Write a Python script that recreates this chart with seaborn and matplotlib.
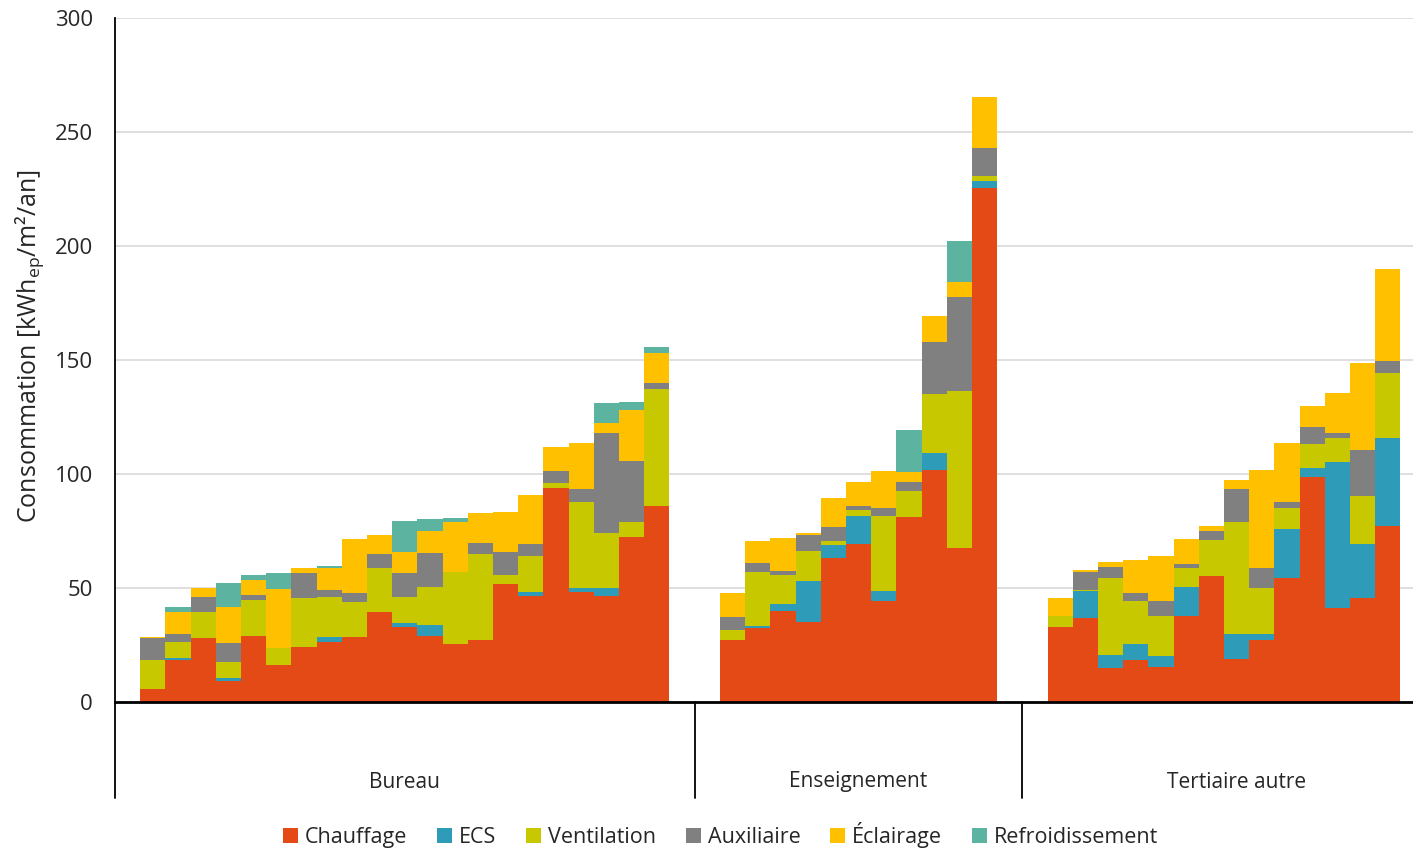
import pandas as pd
import matplotlib
matplotlib.use("Agg")
import matplotlib.pyplot as plt
import seaborn as sns
from matplotlib.patches import Patch

sns.set_theme(style="whitegrid")
plt.rcParams['font.family'] = ['Open Sans', 'DejaVu Sans']
plt.rcParams['mathtext.fontset'] = 'custom'
plt.rcParams['mathtext.rm'] = 'Open Sans'

usages = ['Chauffage', 'ECS', 'Ventilation', 'Auxiliaire', 'Éclairage', 'Refroidissement']
colors = ['#E44A16', '#2E9CB8', '#C8C800', '#808080', '#FFC000', '#5BB3A0']
groups = ['Bureau', 'Enseignement', 'Tertiaire autre']

# Bureau (21 bâtiments)
chauffage_b = [5.7, 18.4, 27.9, 9.2, 28.9, 16.2, 24.3, 26.2, 28.6, 39.3, 32.8, 28.9, 25.4, 27.2, 51.6, 46.5, 94.0, 48.4, 46.5, 72.5, 86.1]
ecs_b = [0, 0.7, 0, 1.2, 0, 0, 0, 2.2, 0, 0, 2.0, 4.9, 0, 0, 0, 1.9, 0, 1.5, 3.4, 0, 0]
ventilation_b = [12.7, 7.1, 11.7, 7.3, 15.8, 7.3, 21.2, 17.8, 15.1, 19.3, 11.4, 16.8, 31.8, 37.6, 4.1, 15.6, 1.9, 38.0, 24.1, 6.6, 51.2]
auxiliaire_b = [9.5, 3.5, 6.3, 8.3, 2.2, 0, 10.9, 2.9, 4.2, 6.3, 10.5, 14.6, 0, 4.8, 9.9, 5.2, 5.4, 5.5, 44.1, 26.7, 2.8]
eclairage_b = [0.7, 9.9, 4.2, 15.8, 6.6, 26.2, 2.2, 9.5, 23.4, 8.3, 9.2, 9.9, 21.9, 13.2, 17.9, 21.6, 10.4, 20.1, 4.1, 22.3, 12.8]
refroid_b = [0, 2.2, 0, 10.2, 2.2, 6.9, 0, 1.2, 0, 0, 13.6, 5.2, 1.7, 0, 0, 0, 0, 0, 8.8, 3.6, 2.7]

# Enseignement (11)
chauffage_e = [27.3, 32.3, 40.0, 34.9, 63.0, 69.3, 44.1, 81.2, 101.8, 67.6, 225.3]
ecs_e = [0, 1.2, 3.2, 18.0, 5.8, 12.2, 4.8, 0, 7.2, 0, 3.2]
ventilation_e = [4.1, 23.5, 12.7, 13.3, 1.8, 2.7, 32.6, 11.4, 26.3, 68.8, 2.3]
auxiliaire_e = [6.0, 3.9, 1.4, 7.0, 6.1, 1.9, 3.5, 4.1, 22.6, 41.3, 12.1]
eclairage_e = [10.6, 9.7, 14.5, 0.9, 12.9, 10.6, 16.4, 4.2, 11.5, 6.3, 22.6]
refroid_e = [0, 0, 0, 0, 0, 0, 0, 18.2, 0, 18.0, 0]

# Tertiaire autre (14)
chauffage_t = [32.9, 36.9, 15.1, 18.6, 15.4, 37.6, 55.2, 19.0, 27.1, 54.2, 98.8, 41.3, 45.8, 77.3]
ecs_t = [0, 11.9, 5.7, 6.7, 4.8, 12.9, 0, 11.0, 2.9, 21.5, 4.0, 63.8, 23.3, 38.7]
ventilation_t = [4.9, 0.5, 33.4, 18.9, 17.4, 8.1, 15.8, 49.1, 19.8, 9.2, 10.2, 10.9, 21.2, 28.5]
auxiliaire_t = [0, 7.8, 5.1, 3.4, 6.6, 1.9, 4.0, 14.2, 8.8, 2.9, 7.5, 1.9, 20.2, 5.1]
eclairage_t = [8.0, 1.0, 2.2, 14.9, 19.8, 10.9, 2.2, 4.1, 43.2, 25.7, 9.5, 17.8, 38.4, 40.3]
refroid_t = [0] * 14

data = {
    'Bureau': [chauffage_b, ecs_b, ventilation_b, auxiliaire_b, eclairage_b, refroid_b],
    'Enseignement': [chauffage_e, ecs_e, ventilation_e, auxiliaire_e, eclairage_e, refroid_e],
    'Tertiaire autre': [chauffage_t, ecs_t, ventilation_t, auxiliaire_t, eclairage_t, refroid_t],
}
# first bar slot of each group (one empty slot on each side of a group)
first_slot = {'Bureau': 1, 'Enseignement': 24, 'Tertiaire autre': 37}
separators = [-0.5, 22.5, 35.5]
label_pos = [11, 29, 44]

rows = []
for g in groups:
    for u, vals in zip(usages, data[g]):
        for i, v in enumerate(vals):
            rows.append({'slot': first_slot[g] + i, 'usage': u, 'value': v})
df = pd.DataFrame(rows)

fig = plt.figure(figsize=(14.13, 8.48), dpi=100)
ax = fig.add_axes([115 / 1413, 1 - 702 / 848, 1 - 115 / 1413, 684 / 848])

# seaborn stacks the last hue level at the bottom
stack_order = usages[::-1]
sns.histplot(data=df, x='slot', weights='value', hue='usage', hue_order=stack_order,
             palette=dict(zip(usages, colors)), multiple='stack', discrete=True,
             shrink=1, alpha=1, linewidth=0, legend=False, ax=ax)

ax.set_xlim(-0.5, 51.0)
ax.set_ylim(0, 300)
ax.set_yticks(range(0, 301, 50))
ax.tick_params(axis='y', length=0, pad=16, labelsize=16, labelcolor='#262626')
ax.set_xticks([])
ax.set_xlabel('')
ax.set_ylabel(r'Consommation [kWh$_{\mathrm{ep}}$/m²/an]', fontsize=18, color='#262626')
ax.yaxis.set_label_coords(-0.053, 0.52)
ax.grid(axis='y', color='#d9d9d9', linewidth=1.2)
ax.grid(axis='x', visible=False)
ax.set_axisbelow(True)
for s in ['top', 'right']:
    ax.spines[s].set_visible(False)
ax.spines['left'].set_color('black')
ax.spines['left'].set_linewidth(1.3)
ax.spines['bottom'].set_color('black')
ax.spines['bottom'].set_linewidth(2)

# multi-level category axis
trans = ax.get_xaxis_transform()
for x in separators:
    ax.plot([x, x], [0, -96 / 684], color='black', lw=1.3, transform=trans, clip_on=False)
for x, g in zip(label_pos, groups):
    ax.text(x, -80 / 684, g, transform=trans, ha='center', va='center', fontsize=15, color='#262626')

handles = [Patch(facecolor=c, edgecolor='none', label=u) for u, c in zip(usages, colors)]
fig.legend(handles=handles, loc='center', bbox_to_anchor=(0.51, 1 - 835 / 848), ncol=6,
           frameon=False, fontsize=15.5, handlelength=0.7, handleheight=0.7,
           handletextpad=0.3, columnspacing=1.4)

fig.savefig('out.png', dpi=100)
